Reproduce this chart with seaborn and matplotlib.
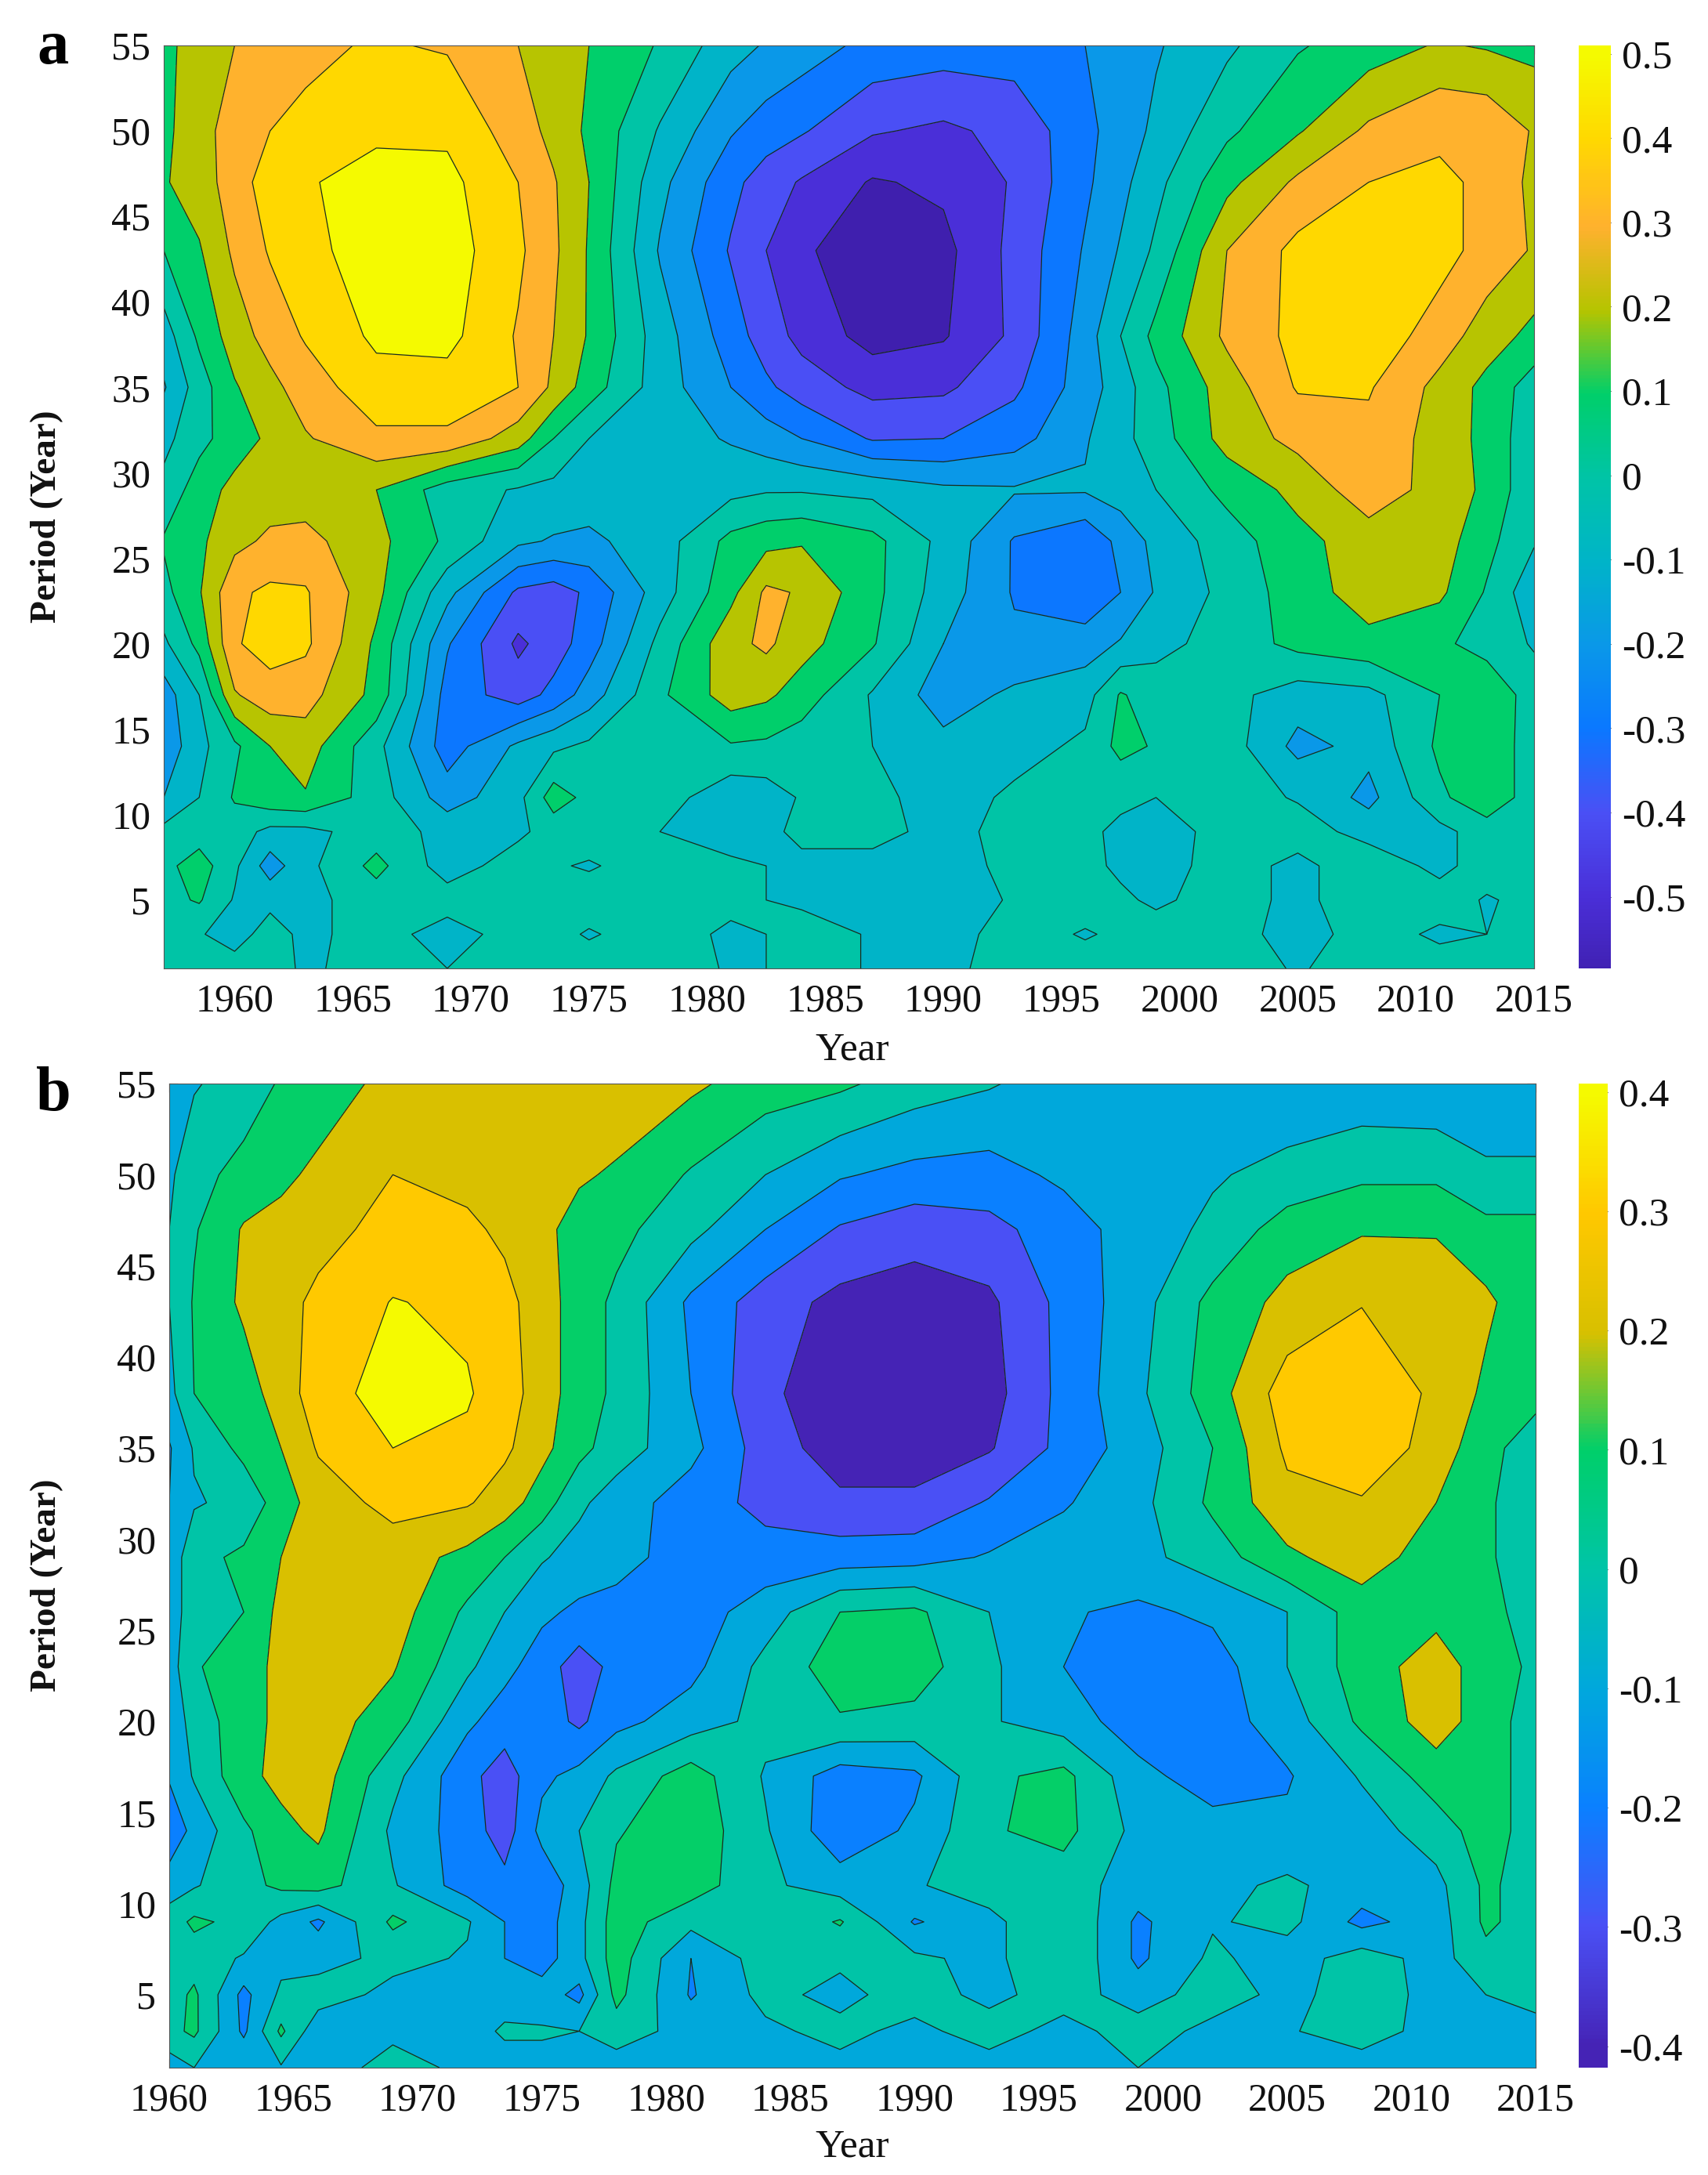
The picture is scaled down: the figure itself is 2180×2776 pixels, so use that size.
import numpy as np
import pandas as pd
import matplotlib
matplotlib.use("Agg")
import matplotlib.pyplot as plt
import seaborn as sns

sns.set_theme(style="ticks")
plt.rcParams['font.family'] = ['Liberation Serif', 'DejaVu Serif']

periods = [55, 50, 47, 43, 38, 35, 32, 29, 26, 23, 20, 17, 14, 11, 9, 7, 5, 3, 1]

years_a = [1957, 1958.5, 1960, 1961.5, 1963, 1966, 1969, 1972, 1973.5, 1975, 1978, 1981, 1982.5, 1984, 1987,
           1990, 1993, 1996, 1997.5, 1999, 2002, 2005, 2008, 2011, 2013, 2015]
values_a = [
 [.12,.2,.25,.3,.33,.36,.34,.25,.2,.15,.04,-.11,-.16,-.2,-.28,-.3,-.3,-.25,-.2,-.16,-.07,.04,.1,.16,.14,.12],
 [.13,.2,.31,.35,.37,.43,.43,.30,.22,.13,-.06,-.24,-.3,-.34,-.44,-.47,-.42,-.28,-.2,-.13,.03,.14,.27,.34,.33,.24],
 [.14,.2,.30,.4,.44,.49,.48,.35,.26,.15,-.12,-.32,-.4,-.46,-.56,-.53,-.44,-.27,-.18,-.08,.12,.27,.35,.36,.34,.22],
 [.05,.14,.27,.36,.42,.5,.5,.37,.27,.14,-.16,-.36,-.45,-.54,-.59,-.58,-.42,-.24,-.14,-.03,.25,.38,.44,.39,.31,.24],
 [-.1,.07,.2,.29,.36,.47,.48,.34,.25,.14,-.1,-.3,-.4,-.48,-.59,-.56,-.43,-.2,-.05,.08,.27,.38,.42,.30,.2,.12],
 [-.16,.0,.14,.22,.3,.41,.41,.35,.23,.1,-.1,-.25,-.33,-.4,-.48,-.47,-.37,-.2,-.1,.02,.2,.36,.36,.22,.12,.0],
 [-.08,.02,.1,.17,.24,.33,.33,.2,.05,-.05,-.1,-.16,-.2,-.25,-.36,-.35,-.29,-.16,-.08,.0,.19,.28,.32,.21,.12,-.02],
 [-.02,.1,.18,.2,.2,.15,.0,-.06,-.08,-.1,-.1,-.08,-.06,-.06,-.08,-.13,-.14,-.14,-.1,-.05,.08,.18,.31,.21,.13,-.03],
 [.06,.13,.22,.27,.28,.18,.03,-.13,-.16,-.17,-.1,.08,.12,.14,.08,-.08,-.26,-.33,-.22,-.12,.0,.12,.2,.2,.08,-.04],
 [.02,.14,.33,.37,.36,.18,-.12,-.37,-.4,-.33,-.1,.12,.27,.24,.08,-.1,-.26,-.33,-.25,-.14,-.02,.1,.2,.17,.04,-.12],
 [-.07,.08,.34,.39,.37,.13,-.24,-.47,-.4,-.3,-.02,.22,.27,.19,.06,-.15,-.23,-.2,-.14,-.08,-.01,.08,.12,.07,.01,-.06],
 [-.2,-.05,.24,.31,.29,.12,-.29,-.4,-.32,-.2,.03,.2,.17,.1,-.06,-.2,-.13,-.09,.06,.0,-.02,-.1,-.08,.05,.13,.0],
 [-.22,-.08,.03,.15,.2,-.02,-.3,-.13,-.07,-.03,.0,.04,.03,.0,-.05,-.12,-.09,-.03,.08,.04,.0,-.18,-.12,.07,.12,.0],
 [-.15,-.05,.06,.12,.14,.0,-.2,-.08,.1,.02,.0,-.12,-.1,-.04,-.02,-.1,-.03,.0,-.03,-.05,.0,-.06,-.18,.03,.12,.0],
 [-.02,.0,.0,-.08,-.08,.0,-.08,-.07,-.01,.0,-.05,-.1,-.08,-.02,.0,-.1,.0,-.03,-.07,-.1,-.01,.0,-.09,-.08,.0,.0],
 [.02,.1,-.03,-.2,-.08,.08,-.1,.0,-.04,-.06,.0,-.03,-.05,-.08,-.1,-.13,.0,-.02,-.07,-.1,.0,-.08,.02,-.08,.0,.0],
 [.02,.06,-.06,-.08,-.08,.0,.0,.0,.0,.0,.0,-.02,-.05,-.07,-.1,-.15,-.03,.0,-.03,-.07,.0,-.08,.02,.0,-.06,-.02],
 [.02,-.04,-.1,.0,-.08,.0,-.1,.0,-.02,-.06,.0,-.07,-.05,.0,-.06,-.1,.0,-.06,-.03,.0,.0,-.1,.0,-.07,-.05,.0],
 [.02,.0,.0,.0,-.07,.0,-.05,.0,.0,.0,.0,-.06,-.05,.0,-.06,-.08,.0,.0,.0,.0,.0,-.06,.0,.0,.0,-.02],
]

years_b = [1960, 1961, 1963, 1964.5, 1966, 1969, 1972, 1973.5, 1975, 1976.5, 1978, 1981, 1984, 1987, 1990, 1993,
           1996, 1999, 2002, 2005, 2008, 2011, 2013, 2015]
values_b = [
 [-.13,-.06,.0,.06,.1,.18,.22,.22,.22,.22,.2,.17,.1,.07,.0,-.04,-.1,-.12,-.13,-.12,-.12,-.13,-.13,-.13],
 [-.07,.02,.08,.13,.17,.25,.22,.2,.18,.16,.14,.04,-.05,-.14,-.18,-.19,-.13,-.09,-.06,-.02,.03,.03,-.03,-.03],
 [-.05,.04,.16,.18,.22,.28,.27,.23,.17,.12,.08,-.02,-.15,-.26,-.31,-.28,-.2,-.1,-.03,.1,.14,.14,.08,.08],
 [-.05,.06,.17,.22,.27,.355,.33,.28,.2,.1,.03,-.17,-.3,-.38,-.4,-.37,-.22,-.09,.08,.18,.245,.22,.17,.08],
 [-.08,.05,.1,.2,.3,.4,.36,.3,.2,.1,.03,-.15,-.33,-.41,-.42,-.39,-.22,-.07,.1,.3,.33,.23,.13,.08],
 [-.16,-.04,.08,.15,.26,.35,.33,.27,.18,.08,.0,-.12,-.3,-.4,-.4,-.36,-.22,-.1,.05,.27,.32,.21,.08,.0],
 [-.15,-.06,-.02,.1,.2,.28,.26,.2,.1,-.03,-.1,-.2,-.28,-.33,-.33,-.24,-.16,-.08,.07,.22,.24,.15,.07,-.03],
 [-.12,.02,.07,.15,.2,.2,.12,.05,-.04,-.09,-.12,-.19,-.21,-.2,-.19,-.14,-.1,-.08,.0,.13,.2,.1,.07,-.03],
 [-.1,.0,.05,.18,.2,.2,.03,-.05,-.13,-.17,-.18,-.2,-.1,.05,.07,-.05,-.14,-.17,-.13,-.05,.1,.12,.1,-.02],
 [-.1,.04,.1,.18,.2,.16,-.03,-.12,-.2,-.3,-.22,-.18,-.02,.1,.1,-.03,-.15,-.22,-.2,-.05,.1,.2,.1,.03],
 [-.14,.0,.1,.18,.2,.1,-.13,-.2,-.2,-.27,-.18,-.1,-.02,.04,.02,-.04,-.1,-.2,-.2,-.1,.07,.2,.1,.0],
 [-.14,-.04,.12,.18,.2,-.02,-.22,-.3,-.17,-.12,-.03,.1,-.06,-.2,-.17,.03,.08,-.12,-.2,-.16,-.04,.1,.1,.0],
 [-.22,-.12,.03,.12,.17,-.07,-.2,-.3,-.12,-.05,.04,.12,-.04,-.22,-.13,.04,.08,-.08,-.11,-.13,-.1,.0,.1,.0],
 [-.1,-.06,.02,.07,.09,-.04,-.2,-.22,-.22,-.1,.08,.1,-.03,-.1,-.06,.0,.0,-.1,-.08,-.03,-.1,-.08,.07,.0],
 [.0,.07,.02,-.08,-.17,.07,-.04,-.15,-.2,-.08,.1,-.02,-.04,.06,-.16,-.08,.05,-.17,-.06,-.02,-.18,-.1,.07,.0],
 [.0,.0,-.06,-.08,-.09,-.02,-.06,-.15,-.2,-.08,.1,-.15,.0,-.03,-.03,-.08,.05,-.17,-.03,-.1,.0,-.09,.02,.04],
 [.0,.07,-.18,-.03,.0,-.08,-.08,-.08,-.1,-.18,.08,-.16,-.02,-.08,.0,-.08,.0,-.1,.0,-.08,.0,-.08,-.05,.0],
 [.02,.07,-.17,.07,-.12,-.08,-.08,-.04,-.04,-.05,.0,-.09,-.07,-.02,-.08,.0,-.09,.0,-.08,-.06,.0,-.09,-.06,-.1],
 [-.1,-.05,-.06,-.06,-.12,.0,-.08,-.08,-.08,-.06,-.1,-.08,-.08,-.08,-.1,-.1,-.1,-.05,-.09,-.08,-.1,-.1,-.09,-.1],
]

palette_a = ["#3F1FAE", "#4A2FD8", "#4A50F5", "#0A78FF", "#0A98E8", "#00B4C8",
             "#00C4A6", "#00CF6A", "#B5C400", "#FFB12E", "#FFD800", "#F5FA00"]
palette_b = ["#4523B5", "#4A50F5", "#0A80FF", "#00A8DC", "#00C4A8", "#00CF6A",
             "#D8C000", "#FFC800", "#F5FA00"]

x_ticks_a = [1960, 1965, 1970, 1975, 1980, 1985, 1990, 1995, 2000, 2005, 2010, 2015]
x_ticks_b = x_ticks_a
y_ticks = [5, 10, 15, 20, 25, 30, 35, 40, 45, 50, 55]
cbar_ticks_a = [-0.5, -0.4, -0.3, -0.2, -0.1, 0, 0.1, 0.2, 0.3, 0.4, 0.5]
cbar_labels_a = ["-0.5", "-0.4", "-0.3", "-0.2", "-0.1", "0", "0.1", "0.2", "0.3", "0.4", "0.5"]
cbar_ticks_b = [-0.4, -0.3, -0.2, -0.1, 0, 0.1, 0.2, 0.3, 0.4]
cbar_labels_b = ["-0.4", "-0.3", "-0.2", "-0.1", "0", "0.1", "0.2", "0.3", "0.4"]

W, H = 2180, 2776
fig = plt.figure(figsize=(W / 100, H / 100), dpi=100, facecolor="white")


def box(l, t, r, b):
    return [l / W, 1 - b / H, (r - l) / W, (b - t) / H]


def panel(letter, years, values, pal, vrange, levels, xticks, cticks, clabels,
          axbox, cbox, crange, letter_y, xlabel_y):
    table = pd.DataFrame(values, index=periods, columns=years)
    cmap = sns.blend_palette(pal, n_colors=256, as_cmap=True)
    norm = matplotlib.colors.Normalize(*vrange)
    ax = fig.add_axes(box(*axbox))
    X, Y = np.meshgrid(table.columns.values, table.index.values)
    ax.contourf(X, Y, table.values, levels=levels, cmap=cmap, norm=norm)
    ax.contour(X, Y, table.values, levels=levels, colors="#1a2a20", linewidths=0.9,
               linestyles="solid")
    ax.set_xlim(years[0], years[-1])
    ax.set_ylim(1, 55)
    ax.set_xticks(xticks)
    ax.set_yticks(y_ticks)
    ax.tick_params(direction="in", length=8, width=0.8, top=True, right=True,
                   labelsize=36, colors="#111111")
    ax.tick_params(axis="x", pad=14)
    ax.tick_params(axis="y", pad=12)
    for s in ax.spines.values():
        s.set_linewidth(0.8)
        s.set_color("#555555")
    ax.set_ylabel("")
    ax.set_xlabel("")
    cy = (axbox[1] + axbox[3]) / 2
    fig.text(60 / W, 1 - (cy + 12) / H, "Period (Year)", rotation=90, ha="center",
             va="center", fontsize=34, fontweight="bold", color="#111111")
    fig.text(1088 / W, 1 - xlabel_y / H, "Year", ha="center", va="center",
             fontsize=37, color="#111111")
    fig.text(68 / W, 1 - letter_y / H, letter, ha="center", va="center",
             fontsize=58, fontweight="bold", color="black")
    cax = fig.add_axes(box(*cbox))
    sm = matplotlib.cm.ScalarMappable(norm=norm, cmap=cmap)
    cb = fig.colorbar(sm, cax=cax, boundaries=np.linspace(crange[0], crange[1], 257),
                      spacing="proportional")
    cb.set_ticks(cticks)
    cb.set_ticklabels(clabels)
    cb.solids.set_edgecolor("face")
    cb.outline.set_visible(False)
    cax.tick_params(direction="in", length=6, width=0.8, labelsize=37, pad=10,
                    colors="#111111", right=True, left=False)


panel("a", years_a, values_a, palette_a, (-0.6, 0.5), np.arange(-0.65, 0.56, 0.1),
      x_ticks_a, cbar_ticks_a, cbar_labels_a,
      (209, 58, 1958, 1236), (2015, 58, 2056, 1236), (-0.585, 0.51), 62, 1340)
panel("b", years_b, values_b, palette_b, (-0.4, 0.4), np.arange(-0.45, 0.46, 0.1),
      x_ticks_b, cbar_ticks_b, cbar_labels_b,
      (216, 1383, 1960, 2639), (2015, 1383, 2052, 2639), (-0.418, 0.407), 1398, 2740)

fig.savefig("out.png", dpi=100, facecolor="white")
